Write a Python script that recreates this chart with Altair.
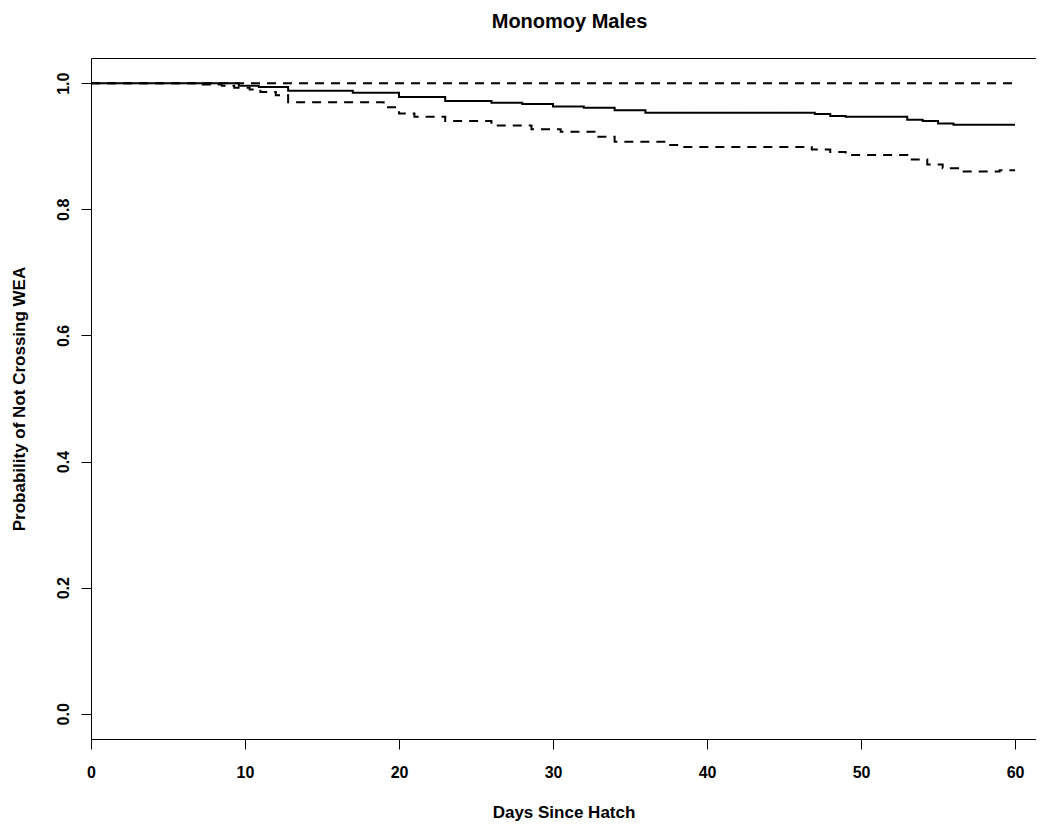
import altair as alt
import pandas as pd

# Kaplan-Meier estimate (solid)
est_days = [0, 9.6, 10.9, 12.8, 17, 20, 23, 26, 28, 30, 32, 34, 36, 47, 48, 49, 53, 54, 55, 56, 60]
est_vals = [1.0, 0.996, 0.994, 0.988, 0.985, 0.978, 0.972, 0.969, 0.967, 0.963, 0.961, 0.957,
            0.953, 0.951, 0.948, 0.947, 0.942, 0.940, 0.936, 0.934, 0.934]

# Upper confidence bound (dashed)
up_days = [0, 60]
up_vals = [1.0, 1.0]

# Lower confidence bound (dashed)
lo_days = [0, 7, 8.5, 9.3, 10.3, 11, 12, 12.8, 19, 20, 21, 23, 26, 28.6, 30.5, 32.7, 34,
           37.5, 38.2, 46.8, 48, 49, 53, 54.3, 55.3, 56.3, 59, 60]
lo_vals = [1.0, 0.998, 0.996, 0.993, 0.990, 0.986, 0.981, 0.970, 0.962, 0.952, 0.947, 0.940,
           0.933, 0.927, 0.923, 0.915, 0.907, 0.902, 0.899, 0.895, 0.891, 0.886, 0.879,
           0.871, 0.865, 0.860, 0.862, 0.862]

x_ticks = [0, 10, 20, 30, 40, 50, 60]
y_ticks = [0.0, 0.2, 0.4, 0.6, 0.8, 1.0]

rows = []
for d, v in zip(est_days, est_vals):
    rows.append({"day": d, "prob": v, "series": "estimate"})
for d, v in zip(up_days, up_vals):
    rows.append({"day": d, "prob": v, "series": "upper"})
for d, v in zip(lo_days, lo_vals):
    rows.append({"day": d, "prob": v, "series": "lower"})
df = pd.DataFrame(rows)

FONT = "Liberation Sans"

chart = alt.Chart(df).mark_line(interpolate="step-after", color="black", strokeWidth=2).encode(
    x=alt.X("day:Q",
            scale=alt.Scale(domain=[0, 61.36], nice=False, zero=False),
            axis=alt.Axis(values=x_ticks, title="Days Since Hatch", format="d",
                          grid=False, domain=False, tickSize=10, tickColor="black",
                          labelFont=FONT, labelFontSize=16, labelFontWeight="bold",
                          labelColor="black", labelPadding=15,
                          titleFont=FONT, titleFontSize=17, titleFontWeight="bold",
                          titleColor="black", titleY=78, titleBaseline="alphabetic",
                          labelFlush=False)),
    y=alt.Y("prob:Q",
            scale=alt.Scale(domain=[-0.04, 1.04], nice=False, zero=False),
            axis=alt.Axis(values=y_ticks, title="Probability of Not Crossing WEA", format=".1f",
                          grid=False, domain=False, tickSize=10, tickColor="black",
                          labelFont=FONT, labelFontSize=16, labelFontWeight="bold",
                          labelColor="black", labelAngle=-90, labelAlign="center",
                          labelBaseline="bottom", labelPadding=10,
                          titleFont=FONT, titleFontSize=17, titleFontWeight="bold",
                          titleColor="black", titleX=-66.5, titleBaseline="alphabetic",
                          titleAngle=-90, titleAlign="center", labelFlush=False)),
    strokeDash=alt.StrokeDash("series:N",
                              scale=alt.Scale(domain=["estimate", "upper", "lower"],
                                              range=[[1, 0], [9, 7], [9, 7]]),
                              legend=None),
    detail="series:N",
).properties(
    width=945,
    height=681,
    autosize=alt.AutoSizeParams(type="none"),
    padding={"left": 83, "top": 50, "right": 0, "bottom": 82},
    title=alt.TitleParams("Monomoy Males", font=FONT, fontSize=20, fontWeight="bold",
                          color="black", anchor="middle", baseline="bottom", offset=6, dx=6),
).configure_view(
    stroke="black", strokeWidth=1
)

chart.save("out.html", embed_options={"renderer": "svg", "actions": False})
